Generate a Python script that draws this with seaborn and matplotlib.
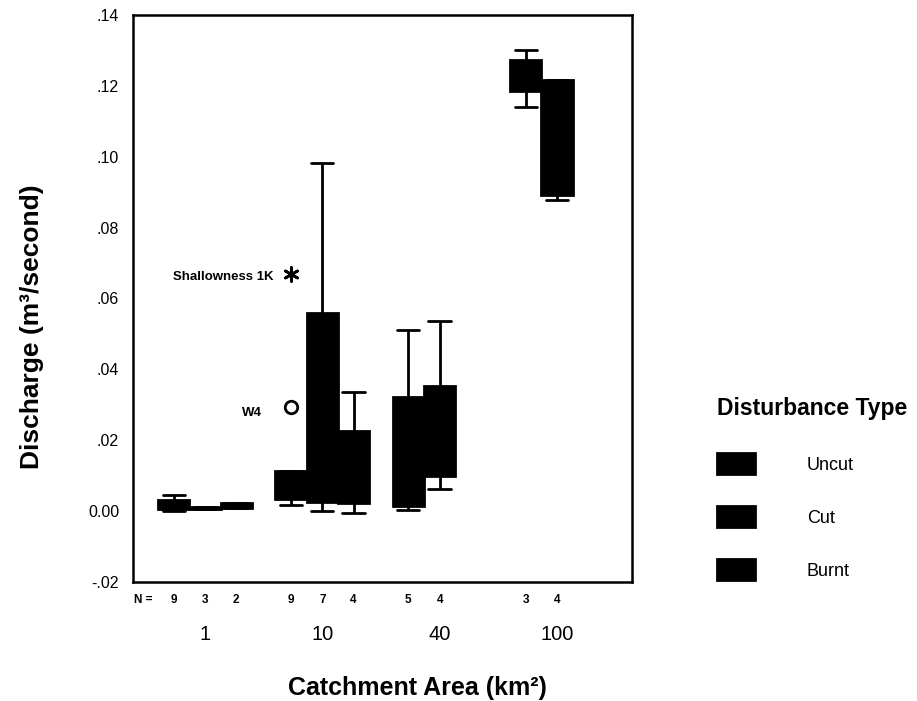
import numpy as np
import pandas as pd
import matplotlib
matplotlib.use("Agg")
import matplotlib.pyplot as plt
import seaborn as sns
from matplotlib.transforms import blended_transform_factory

# ---------------- data ----------------
catchment_areas = ["1", "10", "40", "100"]
disturbance_types = ["Uncut", "Cut", "Burnt"]

group_area = ["1", "1", "1", "10", "10", "10", "40", "40", "100", "100"]
group_type = ["Uncut", "Cut", "Burnt", "Uncut", "Cut", "Burnt", "Uncut", "Cut", "Uncut", "Cut"]
box_min = [0.0000, 0.0005, 0.0008, 0.0017, 0.0000, -0.0005, 0.0003, 0.0063, 0.1140, 0.0878]
box_q1 = [0.0005, 0.0005, 0.0008, 0.0034, 0.0026, 0.0023, 0.0014, 0.0099, 0.1185, 0.0892]
box_med = [0.0015, 0.0008, 0.0015, 0.0060, 0.0090, 0.0080, 0.0100, 0.0200, 0.1230, 0.1050]
box_q3 = [0.0031, 0.0012, 0.0022, 0.0114, 0.0560, 0.0227, 0.0321, 0.0352, 0.1273, 0.1216]
box_max = [0.0046, 0.0012, 0.0022, 0.0114, 0.0983, 0.0335, 0.0511, 0.0537, 0.1300, 0.1216]
n_counts = [9, 3, 2, 9, 7, 4, 5, 4, 3, 4]

outlier_area = ["10", "10"]
outlier_type = ["Uncut", "Uncut"]
outlier_value = [0.0293, 0.0668]
outlier_label = ["W4", "Shallowness 1K"]
outlier_kind = ["outlier", "extreme"]

ytick_values = [-0.02, 0.00, 0.02, 0.04, 0.06, 0.08, 0.10, 0.12, 0.14]
ytick_labels = ["-.02", "0.00", ".02", ".04", ".06", ".08", ".10", ".12", ".14"]

# ---------------- build tables ----------------
rows = []
for a, t, v0, v1, v2, v3, v4 in zip(group_area, group_type, box_min, box_q1, box_med, box_q3, box_max):
    for v in (v0, v1, v2, v3, v4):
        rows.append({"area": a, "type": t, "value": v})
df = pd.DataFrame(rows)
out_df = pd.DataFrame({"area": outlier_area, "type": outlier_type, "value": outlier_value,
                       "label": outlier_label, "kind": outlier_kind})

# ---------------- style ----------------
sns.set_theme(style="white")
plt.rcParams["font.family"] = ["Liberation Sans", "DejaVu Sans"]
plt.rcParams["text.color"] = "black"
plt.rcParams["axes.labelcolor"] = "black"
plt.rcParams["xtick.color"] = "black"
plt.rcParams["ytick.color"] = "black"

fig = plt.figure(figsize=(9.17, 7.01), dpi=100)
W, H = 917, 701
ax = fig.add_axes([133 / W, 1 - 582 / H, 499 / W, (582 - 15) / H])

black_pal = {t: "black" for t in disturbance_types}
sns.boxplot(data=df, x="area", y="value", hue="type", order=catchment_areas,
            hue_order=disturbance_types, palette=black_pal, linecolor="black",
            linewidth=2, width=0.8, gap=0, whis=1.5, fliersize=0, saturation=1,
            medianprops=dict(color="black"), capwidths=0.19, ax=ax)
handles, labels = ax.get_legend_handles_labels()
if ax.get_legend() is not None:
    ax.get_legend().remove()

# outliers
label_offsets = {"W4": (-29, -6), "Shallowness 1K": (-18, -3)}
for kind, marker, fc, size in [("outlier", "o", "white", 9), ("extreme", (6, 2, 0), "black", 10)]:
    sub = out_df[out_df["kind"] == kind]
    n_before = len(ax.collections)
    sns.stripplot(data=sub, x="area", y="value", hue="type", order=catchment_areas,
                  hue_order=disturbance_types, dodge=True, jitter=False,
                  palette={t: fc for t in disturbance_types}, edgecolor="black",
                  linewidth=2, size=size, marker=marker, legend=False, ax=ax, zorder=5)
    pts = []
    for c in ax.collections[n_before:]:
        off = c.get_offsets()
        if len(off):
            pts.extend(list(off))
    for (px, py), lab in zip(pts, sub["label"]):
        ax.annotate(lab, xy=(px, py), xytext=label_offsets[lab], textcoords="offset pixels",
                    ha="right", va="center", fontsize=9.5, fontweight="bold", color="black")

# axes
ax.set_ylim(-0.02, 0.14)
ax.set_xlim(-0.614, 3.64)
ax.set_yticks(ytick_values)
ax.set_yticklabels(ytick_labels)
for s in ax.spines.values():
    s.set_visible(True)
    s.set_linewidth(1.8)
    s.set_color("black")
ax.tick_params(axis="y", direction="out", length=4, width=2, pad=6, labelsize=11.5, colors="black")
ax.tick_params(axis="x", direction="out", length=4, width=2, pad=27, labelsize=14.5, colors="black")

ax.set_xlabel("Catchment Area (km²)", fontsize=18, fontweight="bold", color="black")
ax.xaxis.set_label_coords(0.571, -0.165)
ax.set_ylabel("Discharge (m³/second)", fontsize=19, fontweight="bold", color="black")
ax.yaxis.set_label_coords(-0.178, 0.45)

# N = counts
trans = blended_transform_factory(ax.transData, ax.transAxes)
hue_offsets = np.linspace(-0.8 / 3, 0.8 / 3, len(disturbance_types))
for a, t, n in zip(group_area, group_type, n_counts):
    xpos = catchment_areas.index(a) + hue_offsets[disturbance_types.index(t)]
    ax.text(xpos, -0.032, str(n), transform=trans, ha="center", va="center",
            fontsize=8.5, fontweight="bold", color="black")
ax.text(0.003, -0.032, "N =", transform=ax.transAxes, ha="left", va="center",
        fontsize=8.5, fontweight="bold", color="black")

# legend
leg = fig.legend(handles, labels, loc="upper left", bbox_to_anchor=(704 / W, 1 - 384 / H),
                 frameon=False, title="Disturbance Type",
                 title_fontproperties={"weight": "bold", "size": 16.5}, fontsize=13,
                 handlelength=2.1, handleheight=1.45, handletextpad=2.9, labelspacing=1.75,
                 alignment="left", borderpad=0.2)
leg._legend_box.sep = 24
for txt in leg.get_texts():
    txt.set_color("black")
leg.get_title().set_color("black")

fig.savefig("out.png", dpi=100)
